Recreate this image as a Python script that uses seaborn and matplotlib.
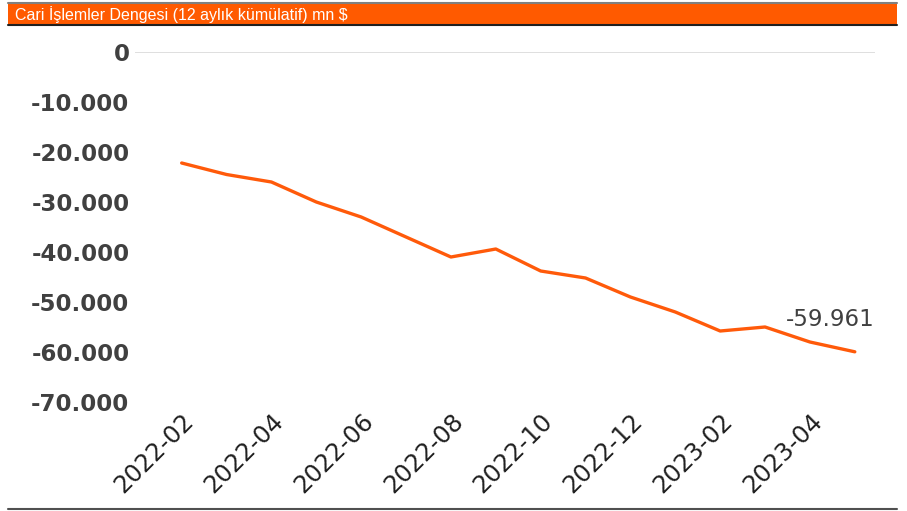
import matplotlib
matplotlib.use("Agg")
import matplotlib.pyplot as plt
import seaborn as sns
import pandas as pd
from matplotlib.patches import Rectangle
from matplotlib.lines import Line2D
from matplotlib.ticker import FuncFormatter

# Cari işlemler dengesi, 12 aylık kümülatif, mn $
months = ["2022-02", "2022-03", "2022-04", "2022-05", "2022-06", "2022-07",
          "2022-08", "2022-09", "2022-10", "2022-11", "2022-12", "2023-01",
          "2023-02", "2023-03", "2023-04", "2023-05"]
balance = [-22200, -24500, -26000, -30000, -33000, -37000,
           -41000, -39400, -43800, -45200, -49000, -52000,
           -55800, -55000, -58000, -59961]

df = pd.DataFrame({"Ay": months, "Denge": balance})
df["idx"] = range(len(df))

sns.set_style("white")
plt.rcParams["font.family"] = ["DejaVu Sans"]

fig = plt.figure(figsize=(9.07, 5.11), dpi=100)
ax = fig.add_axes([135 / 907, 1 - 402 / 511, 740 / 907, 350 / 511])

sns.lineplot(data=df, x="idx", y="Denge", ax=ax, color="#FF5A0A", linewidth=2.4)

ax.set_xlim(-1.04, 15.45)
ax.set_ylim(-70000, 0)
ax.set_yticks(range(-70000, 1, 10000))
ax.yaxis.set_major_formatter(FuncFormatter(lambda v, p: f"{int(v):,}".replace(",", ".")))
ax.axhline(0, color="#D9D9D9", linewidth=1.2)

ax.set_xticks(df["idx"][::2])
ax.set_xticklabels(df["Ay"][::2], rotation=45, ha="right", rotation_mode="anchor")
ax.tick_params(axis="y", labelsize=16.5, labelcolor="#404040", length=0, pad=4)
ax.tick_params(axis="x", labelsize=17.5, labelcolor="#202020", length=0, pad=5)
for t in ax.get_yticklabels():
    t.set_fontweight("bold")
ax.set_xlabel("")
ax.set_ylabel("")
for s in ax.spines.values():
    s.set_visible(False)

last = df.iloc[-1]
ax.annotate(f"{last['Denge']:,}".replace(",", "."), xy=(last["idx"], last["Denge"]),
            xytext=(-18, 23), textcoords="offset points", ha="center", va="center",
            fontsize=16.5, color="#404040")

# header bar
fig.patches.append(Rectangle((8 / 907, 1 - 25 / 511), 889 / 907, 21 / 511,
                             transform=fig.transFigure, facecolor="#FF5A00",
                             edgecolor="none"))
fig.lines.append(Line2D([8 / 907, 897 / 907], [1 - 3.5 / 511] * 2,
                        transform=fig.transFigure, color="#808080", linewidth=1.5))
fig.lines.append(Line2D([8 / 907, 897 / 907], [1 - 25.5 / 511] * 2,
                        transform=fig.transFigure, color="#202020", linewidth=1.5))
fig.lines.append(Line2D([8 / 907, 897 / 907], [1 - 509 / 511] * 2,
                        transform=fig.transFigure, color="#505050", linewidth=1.5))
fig.text(15 / 907, 1 - 14.5 / 511, "Cari İşlemler Dengesi (12 aylık kümülatif) mn $",
         color="white", fontsize=11.5, va="center", ha="left",
         family=["Liberation Sans", "DejaVu Sans"])

fig.savefig("out.png", dpi=100)
